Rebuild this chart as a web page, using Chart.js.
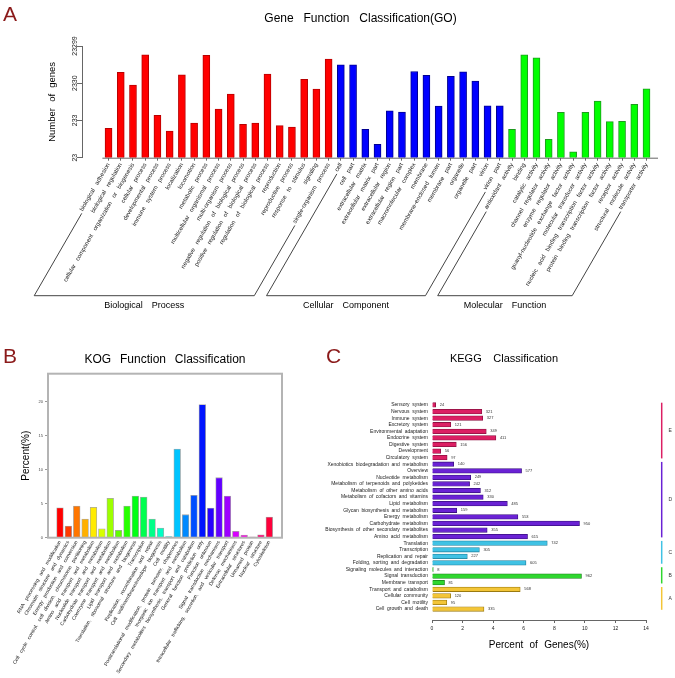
<!DOCTYPE html>
<html>
<head>
<meta charset="utf-8">
<title>GO / KOG / KEGG classification</title>
<script src="https://cdn.jsdelivr.net/npm/chart.js@4.4.1/dist/chart.umd.min.js"></script>
<style>
  html, body { margin: 0; padding: 0; background: #fff; }
  #page { position: relative; width: 675px; height: 678px; overflow: hidden; }
  canvas { position: absolute; }
  #goChart { left: 0; top: 0; }
  #kogChart { left: 0; top: 330px; }
  #keggChart { left: 300px; top: 330px; }
  .panel-tag { position: absolute; font: 21px "Liberation Sans", Arial, sans-serif; color: #8b1a1a; line-height: 1; }
</style>
</head>
<body>
<div id="page">
  <canvas id="goChart" width="675" height="318"></canvas>
  <canvas id="kogChart" width="300" height="348"></canvas>
  <canvas id="keggChart" width="375" height="348"></canvas>
  <div class="panel-tag" style="left:3px; top:3px;">A</div>
  <div class="panel-tag" style="left:3px; top:345px;">B</div>
  <div class="panel-tag" style="left:326px; top:345px;">C</div>
</div>
<script>
// Panel A - GO terms (number of genes, log axis)
const goLabels = [
    'biological adhesion', 'biological regulation', 'cellular component organization or biogenesis',
    'cellular process', 'developmental process', 'immune system process', 'localization', 'locomotion',
    'metabolic process', 'multicellular organismal process', 'multi-organism process',
    'negative regulation of biological process', 'positive regulation of biological process',
    'regulation of biological process', 'reproduction', 'reproductive process', 'response to stimulus',
    'signaling', 'single-organism process',
    'cell', 'cell part', 'extracellular matrix', 'extracellular matrix part', 'extracellular region',
    'extracellular region part', 'macromolecular complex', 'membrane', 'membrane-enclosed lumen',
    'membrane part', 'organelle', 'organelle part', 'virion', 'virion part',
    'antioxidant activity', 'binding', 'catalytic activity', 'channel regulator activity',
    'enzyme regulator activity', 'guanyl-nucleotide exchange factor activity', 'molecular transducer activity',
    'nucleic acid binding transcription factor activity', 'protein binding transcription factor activity',
    'receptor activity', 'structural molecule activity', 'transporter activity'
];
const goCounts = [
    142, 4550, 2070, 13500, 317, 120, 3910, 197, 13000, 469, 1185, 182, 197, 4100, 167, 154, 2940, 1620, 10350,
    7270, 7270, 133, 53, 421, 389, 4810, 3775, 564, 3545, 4720, 2650, 575, 575,
    133, 13500, 11220, 72, 382, 33, 382, 769, 214, 220, 626, 1647
];
const goGroups = ['Biological Process', 'Cellular Component', 'Molecular Function'];
const goGroupSizes = [19, 14, 12];
const goTicks = [23, 233, 2330, 23299];

// Panel B - KOG classes (percent)
const kogLabels = [
    'RNA processing and modification', 'Chromatin structure and dynamics', 'Energy production and conversion',
    'Cell cycle control, cell division, chromosome partitioning', 'Amino acid transport and metabolism',
    'Nucleotide transport and metabolism', 'Carbohydrate transport and metabolism',
    'Coenzyme transport and metabolism', 'Lipid transport and metabolism',
    'Translation, ribosomal structure and biogenesis', 'Transcription', 'Replication, recombination and repair',
    'Cell wall/membrane/envelope biogenesis', 'Cell motility',
    'Posttranslational modification, protein turnover, chaperones', 'Inorganic ion transport and metabolism',
    'Secondary metabolites biosynthesis, transport and catabolism', 'General function prediction only',
    'Function unknown', 'Signal transduction mechanisms',
    'Intracellular trafficking, secretion, and vesicular transport', 'Defense mechanisms',
    'Extracellular structures', 'Unnamed protein', 'Nuclear structure', 'Cytoskeleton'
];
const kogPercent = [
    4.4, 1.7, 4.66, 2.75, 4.47, 1.32, 5.79, 1.09, 4.66, 6.13, 5.98, 2.75, 1.43,
    0.15, 13.04, 3.38, 6.23, 19.56, 4.37, 8.82, 6.13, 0.94, 0.4, 0.1, 0.44, 3.04
];
const kogTicks = [0, 5, 10, 15, 20];

// Panel C - KEGG pathways (percent of genes, gene counts as value labels)
const keggLabels = [
    'Sensory system', 'Nervous system', 'Immune system', 'Excretory system', 'Environmental adaptation',
    'Endocrine system', 'Digestive system', 'Development', 'Circulatory system',
    'Xenobiotics biodegradation and metabolism', 'Overview', 'Nucleotide metabolism',
    'Metabolism of terpenoids and polyketides', 'Metabolism of other amino acids',
    'Metabolism of cofactors and vitamins', 'Lipid metabolism', 'Glycan biosynthesis and metabolism',
    'Energy metabolism', 'Carbohydrate metabolism', 'Biosynthesis of other secondary metabolites',
    'Amino acid metabolism',
    'Translation', 'Transcription', 'Replication and repair', 'Folding, sorting and degradation',
    'Signaling molecules and interaction', 'Signal transduction', 'Membrane transport',
    'Transport and catabolism', 'Cellular community', 'Cell motility', 'Cell growth and death'
];
const keggCounts = [
    24, 321, 327, 121, 349, 411, 156, 56, 97,
    140, 577, 249, 242, 312, 330, 485, 159, 553, 950, 355, 615,
    742, 305, 227, 605,
    8, 962, 81,
    568, 120, 95, 335
];
const keggPercent = [
    0.24, 3.26, 3.32, 1.23, 3.55, 4.18, 1.59, 0.57, 0.99,
    1.42, 5.86, 2.53, 2.46, 3.17, 3.35, 4.93, 1.62, 5.62, 9.65, 3.61, 6.25,
    7.54, 3.10, 2.31, 6.15,
    0.08, 9.78, 0.82,
    5.77, 1.22, 0.97, 3.40
];
const keggClasses = ['E', 'D', 'C', 'B', 'A'];
const keggClassSizes = [9, 12, 4, 3, 4];
const keggTicks = [0, 2, 4, 6, 8, 10, 12, 14];

const FONT = '"Liberation Sans", Arial, sans-serif';
Chart.defaults.font.family = FONT;
Chart.defaults.color = '#222';
Chart.defaults.plugins.legend.display = false;
Chart.defaults.plugins.tooltip.enabled = false;

// expand colours per group
function perGroup(sizes, colors) {
    const out = [];
    sizes.forEach((n, g) => { for (let i = 0; i < n; i++) out.push(colors[g]); });
    return out;
}

// fixed axis size, no automatic label padding around the plot area
function fixSize(prop, value) {
    return s => {
        s[prop] = value;
        s.paddingLeft = s.paddingRight = s.paddingTop = s.paddingBottom = 0;
    };
}

// wide word spacing for titles, smaller one for everything drawn after the bars
const wordSpacing = {
    id: 'wordSpacing',
    beforeDraw(chart, args, opts) { chart.ctx.wordSpacing = opts.titles + 'px'; },
    beforeDatasetsDraw(chart, args, opts) { chart.ctx.wordSpacing = opts.labels + 'px'; }
};

// baseline + slanted brackets under the GO labels
const goBrackets = {
    id: 'goBrackets',
    afterDraw(chart) {
        const ctx = chart.ctx;
        const xs = chart.scales.x;
        const area = chart.chartArea;
        const items = xs.getLabelItems();
        const dx = -Math.cos(Math.PI / 3), dy = Math.sin(Math.PI / 3);
        const baseY = 295.7;

        ctx.save();
        ctx.strokeStyle = '#666';
        ctx.lineWidth = 1;
        ctx.beginPath();
        ctx.moveTo(xs.getPixelForValue(-0.5), area.bottom + 0.5);
        ctx.lineTo(area.right, area.bottom + 0.5);
        ctx.stroke();

        ctx.font = '6px ' + FONT;
        ctx.wordSpacing = '3.5px';
        const foot = i => {
            const it = items[i];
            const [tx, ty] = it.options.translation;
            const off = it.textOffset || 0;
            const w = ctx.measureText(goLabels[i]).width + 3;
            const sx = tx + 2 + off * 0.866 + dx * w;
            const sy = ty + off * 0.5 + dy * w;
            return { sx, sy, bx: sx + dx * (baseY - sy) / dy };
        };
        const feet = goLabels.map((_, i) => foot(i));

        ctx.strokeStyle = '#444';
        ctx.fillStyle = '#000';
        ctx.font = '9px ' + FONT;
        ctx.wordSpacing = '6.5px';
        ctx.textAlign = 'center';
        ctx.textBaseline = 'middle';
        let start = 0;
        goGroups.forEach((name, g) => {
            const end = start + goGroupSizes[g] - 1;
            const a = feet[start], b = feet[end];
            ctx.beginPath();
            ctx.moveTo(a.sx, a.sy);
            ctx.lineTo(a.bx, baseY);
            ctx.lineTo(b.bx, baseY);
            ctx.lineTo(b.sx, b.sy);
            ctx.stroke();
            ctx.fillText(name, (a.bx + b.bx) / 2, baseY + 10);
            start = end + 1;
        });
        ctx.restore();
    }
};

// grey frame round the KOG plot
const frameBox = {
    id: 'frameBox',
    afterDraw(chart) {
        const { ctx, chartArea: a } = chart;
        ctx.save();
        ctx.strokeStyle = '#b4b4b4';
        ctx.lineWidth = 2;
        ctx.strokeRect(a.left, a.top, a.right - a.left, a.bottom - a.top);
        ctx.restore();
    }
};

// gene counts at the bar ends, class brackets on the right, panel title
const keggTitle = { text: 'KEGG Classification', x: 204, y: 29.3 };
const keggDecor = {
    id: 'keggDecor',
    afterDatasetsDraw(chart) {
        const ctx = chart.ctx;
        const bars = chart.getDatasetMeta(0).data;
        ctx.save();
        ctx.font = '4px ' + FONT;
        ctx.fillStyle = '#333';
        ctx.textAlign = 'left';
        ctx.textBaseline = 'middle';
        bars.forEach((bar, i) => ctx.fillText(String(keggCounts[i]), bar.x + 4, bar.y));
        ctx.restore();
    },
    afterDraw(chart) {
        const ctx = chart.ctx;
        const ys = chart.scales.y;
        const lineX = chart.chartArea.right + 15.7;
        ctx.save();
        ctx.lineWidth = 1.5;
        ctx.font = '5px ' + FONT;
        ctx.fillStyle = '#333';
        ctx.textAlign = 'center';
        ctx.textBaseline = 'middle';
        let start = 0;
        keggClasses.forEach((name, c) => {
            const end = start + keggClassSizes[c] - 1;
            const top = ys.getPixelForValue(start - 0.5) + 1;
            const bottom = ys.getPixelForValue(end + 0.5) - 2.5;
            ctx.strokeStyle = keggFill[c];
            ctx.beginPath();
            ctx.moveTo(lineX, top);
            ctx.lineTo(lineX, bottom);
            ctx.stroke();
            ctx.fillText(name, lineX + 8.5, (top + bottom) / 2);
            start = end + 1;
        });

        ctx.font = '11px ' + FONT;
        ctx.wordSpacing = '8.5px';
        ctx.fillStyle = '#000';
        ctx.fillText(keggTitle.text, keggTitle.x, keggTitle.y);
        ctx.restore();
    }
};

// ---------- A ----------
new Chart(document.getElementById('goChart'), {
    type: 'bar',
    data: {
        datasets: [{
            data: goCounts.map((v, i) => ({ x: i, y: v })),
            backgroundColor: perGroup(goGroupSizes, ['#ff0000', '#0000ff', '#00ff00']),
            borderColor: perGroup(goGroupSizes, ['#b80000', '#000090', '#1f9a1f']),
            borderWidth: 1,
            barThickness: 7
        }]
    },
    options: {
        responsive: false,
        animation: false,
        devicePixelRatio: 1,
        layout: { padding: { left: 63, right: 17, top: 0, bottom: 0 } },
        plugins: {
            title: {
                display: true,
                text: 'Gene Function Classification(GO)',
                color: '#000',
                font: { size: 12, weight: 'normal' },
                padding: { top: 11.8, bottom: 19.8 }
            },
            wordSpacing: { titles: 6.5, labels: 3.5 }
        },
        scales: {
            x: {
                type: 'linear',
                offset: false,
                min: -2.17,
                max: 44.94,
                afterBuildTicks: s => { s.ticks = goLabels.map((_, i) => ({ value: i })); },
                afterFit: fixSize('height', 318 - 157.7),
                border: { display: false },
                grid: { offset: false, drawOnChartArea: false, tickLength: 3, color: '#666' },
                ticks: {
                    autoSkip: false, minRotation: 60, maxRotation: 60, padding: 1, z: 1,
                    font: { size: 6 }, color: '#222',
                    callback: v => goLabels[v]
                }
            },
            y: {
                type: 'logarithmic',
                min: 23,
                max: 23299,
                afterBuildTicks: s => { s.ticks = goTicks.map(v => ({ value: v })); },
                afterFit: fixSize('width', 19),
                border: { display: true, color: '#666', z: 1 },
                grid: { drawOnChartArea: false, tickLength: 5, color: '#666', z: 1 },
                ticks: {
                    minRotation: 90, maxRotation: 90, crossAlign: 'center', padding: -8,
                    font: { size: 7 }, color: '#222',
                    callback: v => String(v)
                },
                title: {
                    display: true,
                    text: 'Number of genes',
                    color: '#000',
                    font: { size: 9.5 },
                    padding: { top: -16.2, bottom: 0 }
                }
            }
        }
    },
    plugins: [wordSpacing, goBrackets]
});

// ---------- B ----------
const kogColors = kogLabels.map((_, i) => `hsl(${(i * 360 / 26).toFixed(1)}, 100%, 50%)`);

new Chart(document.getElementById('kogChart'), {
    type: 'bar',
    data: {
        datasets: [{
            data: kogPercent.map((v, i) => ({ x: i, y: v })),
            backgroundColor: kogColors,
            borderColor: 'rgba(0, 0, 0, 0.35)',
            borderWidth: 0.8,
            barThickness: 6.7
        }]
    },
    options: {
        responsive: false,
        animation: false,
        devicePixelRatio: 1,
        layout: { padding: { left: 0, right: 18, top: 0, bottom: 0 } },
        plugins: {
            title: {
                display: true,
                fullSize: false,
                text: 'KOG Function Classification',
                color: '#000',
                font: { size: 12, weight: 'normal' },
                padding: { top: 22.1, bottom: 7.2 }
            },
            wordSpacing: { titles: 5.5, labels: 3 }
        },
        scales: {
            x: {
                type: 'linear',
                offset: false,
                min: -1.433,
                max: 26.517,
                afterBuildTicks: s => { s.ticks = kogLabels.map((_, i) => ({ value: i })); },
                afterFit: fixSize('height', 348 - 207.7),
                border: { display: false },
                grid: { display: false, drawTicks: false, offset: false },
                ticks: {
                    autoSkip: false, minRotation: 60, maxRotation: 60, padding: 2, z: 1,
                    font: { size: 5 }, color: '#222',
                    callback: v => kogLabels[v]
                }
            },
            y: {
                min: 0,
                max: 24.1,
                afterBuildTicks: s => { s.ticks = kogTicks.map(v => ({ value: v })); },
                afterFit: fixSize('width', 48),
                border: { display: false },
                grid: { drawOnChartArea: false, tickLength: 3, color: '#999' },
                ticks: { font: { size: 4 }, color: '#444', padding: 2 },
                title: {
                    display: true,
                    text: 'Percent(%)',
                    color: '#000',
                    font: { size: 10 },
                    padding: { top: 20.7, bottom: 0 }
                }
            }
        }
    },
    plugins: [wordSpacing, frameBox]
});

// ---------- C ----------
const keggFill = ['#dc1f63', '#6a22d4', '#40c2e4', '#2fd62f', '#f3c537'];
const keggEdge = ['#8a1040', '#3a1080', '#1f7f9a', '#1a801a', '#9a7a10'];

new Chart(document.getElementById('keggChart'), {
    type: 'bar',
    data: {
        datasets: [{
            data: keggPercent.map((v, i) => ({ x: v, y: i })),
            backgroundColor: perGroup(keggClassSizes, keggFill),
            borderColor: perGroup(keggClassSizes, keggEdge),
            borderWidth: 0.8,
            barThickness: 4.6
        }]
    },
    options: {
        indexAxis: 'y',
        responsive: false,
        animation: false,
        devicePixelRatio: 1,
        layout: { padding: { left: 0, right: 29, top: 68.4, bottom: 0 } },
        plugins: {
            title: { display: false },
            wordSpacing: { titles: 3.5, labels: 1.2 }
        },
        scales: {
            x: {
                type: 'linear',
                min: 0,
                max: 14,
                afterBuildTicks: s => { s.ticks = keggTicks.map(v => ({ value: v })); },
                afterFit: fixSize('height', 58),
                border: { display: true, color: '#666' },
                grid: { drawOnChartArea: false, tickLength: 3, color: '#666' },
                ticks: { font: { size: 5 }, color: '#222', padding: 3 },
                title: {
                    display: true,
                    text: 'Percent of Genes(%)',
                    color: '#000',
                    font: { size: 10 },
                    padding: { top: 0, bottom: 27 }
                }
            },
            y: {
                type: 'linear',
                offset: false,
                reverse: true,
                min: -1,
                max: 32.67,
                afterBuildTicks: s => { s.ticks = keggLabels.map((_, i) => ({ value: i })); },
                afterFit: fixSize('width', 132),
                border: { display: false },
                grid: { display: false, drawTicks: false, offset: false },
                ticks: {
                    autoSkip: false, padding: 4, z: 1,
                    font: { size: 5 }, color: '#222',
                    callback: v => keggLabels[v]
                }
            }
        }
    },
    plugins: [wordSpacing, keggDecor]
});
</script>
</body>
</html>
